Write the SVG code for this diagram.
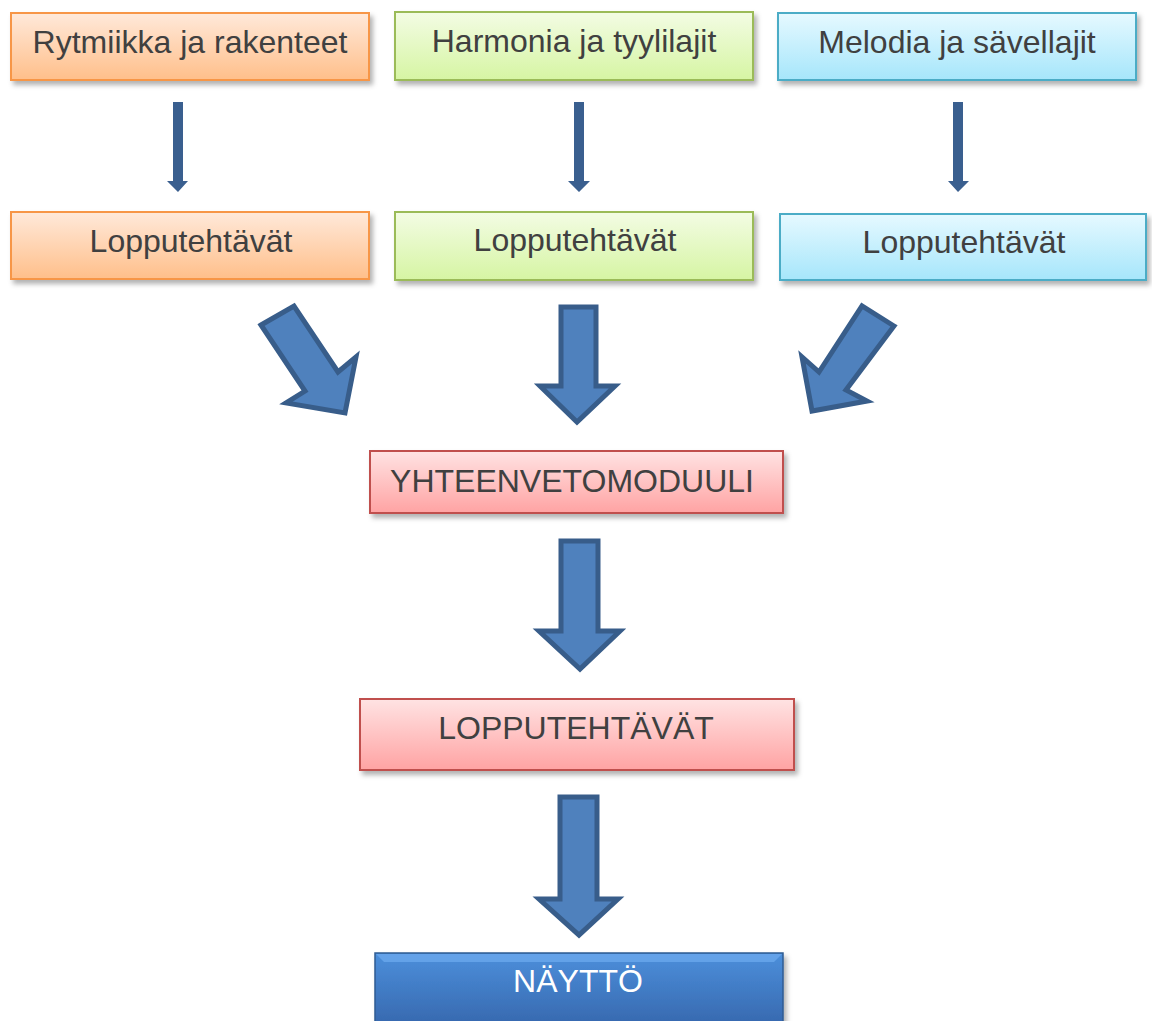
<svg xmlns="http://www.w3.org/2000/svg" width="1152" height="1021" viewBox="0 0 1152 1021">
<style>
  .lbl { font-family: "Liberation Sans", Arial, sans-serif; font-size: 32px; fill: #404040; text-anchor: middle; }
  .lblw { font-family: "Liberation Sans", Arial, sans-serif; font-size: 32px; fill: #ffffff; text-anchor: middle; }
  .box { stroke-width: 2; filter: url(#sh); }
  .big { fill: #4F81BD; stroke: #385D8A; stroke-width: 5; stroke-linejoin: miter; }
  .small { fill: #3A5F8F; }
</style>
<defs>
  <filter id="sh" x="-5%" y="-10%" width="115%" height="140%">
    <feDropShadow dx="3" dy="4" stdDeviation="2.5" flood-color="#000" flood-opacity="0.3"/>
  </filter>
  <linearGradient id="gOr" x1="0" y1="0" x2="0" y2="1">
    <stop offset="0" stop-color="#FFE9DA"/>
    <stop offset="1" stop-color="#FFBF8A"/>
  </linearGradient>
  <linearGradient id="gGr" x1="0" y1="0" x2="0" y2="1">
    <stop offset="0" stop-color="#F3FCE4"/>
    <stop offset="1" stop-color="#D6F5A3"/>
  </linearGradient>
  <linearGradient id="gBl" x1="0" y1="0" x2="0" y2="1">
    <stop offset="0" stop-color="#E6F9FF"/>
    <stop offset="1" stop-color="#A6E6FB"/>
  </linearGradient>
  <linearGradient id="gRd" x1="0" y1="0" x2="0" y2="1">
    <stop offset="0" stop-color="#FFE3E3"/>
    <stop offset="1" stop-color="#FFA3A3"/>
  </linearGradient>
  <linearGradient id="gNv" x1="0" y1="0" x2="0" y2="1">
    <stop offset="0" stop-color="#4C8FDB"/>
    <stop offset="1" stop-color="#3667AD"/>
  </linearGradient>
</defs>
<rect width="1152" height="1021" fill="#ffffff"/>

<g id="connectors">
  <polygon class="small" points="173,102 183,102 183,181 188,181 178,192 167,181 173,181"/>
  <polygon class="small" points="574,102 584,102 584,181 590,181 579,192 568,181 574,181"/>
  <polygon class="small" points="953,102 963,102 963,181 969,181 958,192 948,181 953,181"/>
  <polygon class="big" points="261,325 294,306 338,372 356,357 345,413 286,403 305,391"/>
  <polygon class="big" points="561,307 596,307 596,386 615,386 577,422 540,386 561,386"/>
  <polygon class="big" points="894,326 862,306 819,372 802,357 812,411 867,401 846,390"/>
  <polygon class="big" points="561,541 598,541 598,631 620,631 580,669 539,631 561,631"/>
  <polygon class="big" points="560,797 597,797 597,899 618,899 579,935 539,899 560,899"/>
</g>

<g id="n1">
  <rect class="box" x="11" y="13" width="358" height="67" fill="url(#gOr)" stroke="#F79646"/>
  <text class="lbl" x="190" y="53">Rytmiikka ja rakenteet</text>
</g>
<g id="n2">
  <rect class="box" x="395" y="12" width="358" height="68" fill="url(#gGr)" stroke="#9BBB59"/>
  <text class="lbl" x="574" y="52">Harmonia ja tyylilajit</text>
</g>
<g id="n3">
  <rect class="box" x="778" y="13" width="358" height="67" fill="url(#gBl)" stroke="#4BACC6"/>
  <text class="lbl" x="957" y="53">Melodia ja sävellajit</text>
</g>
<g id="n4">
  <rect class="box" x="11" y="212" width="358" height="67" fill="url(#gOr)" stroke="#F79646"/>
  <text class="lbl" x="191" y="252">Lopputehtävät</text>
</g>
<g id="n5">
  <rect class="box" x="395" y="212" width="358" height="68" fill="url(#gGr)" stroke="#9BBB59"/>
  <text class="lbl" x="575" y="251">Lopputehtävät</text>
</g>
<g id="n6">
  <rect class="box" x="780" y="214" width="366" height="66" fill="url(#gBl)" stroke="#4BACC6"/>
  <text class="lbl" x="964" y="253">Lopputehtävät</text>
</g>
<g id="n7">
  <rect class="box" x="370" y="451" width="413" height="62" fill="url(#gRd)" stroke="#C0504D"/>
  <text class="lbl" x="572" y="492">YHTEENVETOMODUULI</text>
</g>
<g id="n8">
  <rect class="box" x="360" y="699" width="434" height="71" fill="url(#gRd)" stroke="#C0504D"/>
  <text class="lbl" x="576" y="739">LOPPUTEHTÄVÄT</text>
</g>
<g id="n9">
  <rect x="375" y="953" width="408" height="75" fill="url(#gNv)" stroke="#2F5B93" stroke-width="1.5" filter="url(#sh)"/>
  <polygon points="376,954 782,954 774,962 384,962" fill="#6AA8EC" opacity="0.8"/>
  <text class="lblw" x="578" y="992">NÄYTTÖ</text>
</g>
</svg>
